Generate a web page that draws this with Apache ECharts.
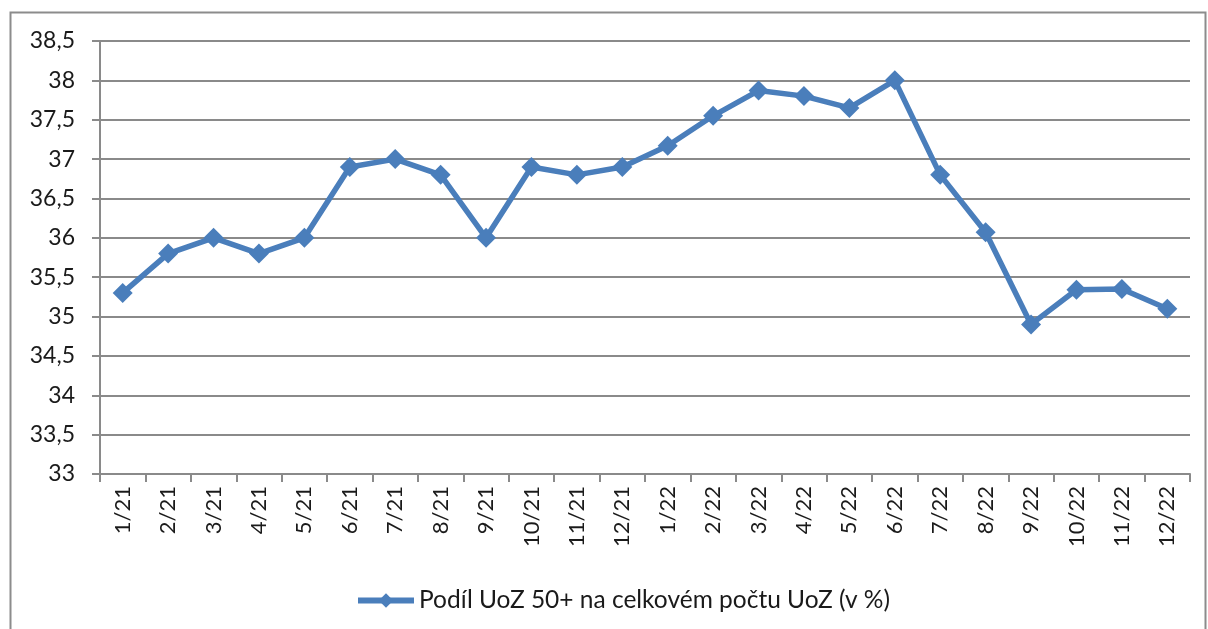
<!DOCTYPE html>
<html>
<head>
<meta charset="utf-8">
<script src="https://cdn.jsdelivr.net/npm/echarts@6/dist/echarts.min.js"></script>
<style>
  html, body { margin: 0; padding: 0; background: #fff; }
  #chart { width: 1208px; height: 629px; }
</style>
</head>
<body>
<div id="chart"></div>
<script>
const months = ['1/21', '2/21', '3/21', '4/21', '5/21', '6/21', '7/21', '8/21', '9/21', '10/21', '11/21', '12/21',
  '1/22', '2/22', '3/22', '4/22', '5/22', '6/22', '7/22', '8/22', '9/22', '10/22', '11/22', '12/22'];
const share50 = [35.3, 35.8, 36.0, 35.8, 36.0, 36.9, 37.0, 36.8, 36.0, 36.9, 36.8, 36.9,
  37.17, 37.55, 37.87, 37.8, 37.65, 38.0, 36.8, 36.07, 34.9, 35.34, 35.35, 35.1];
const seriesName = 'Podíl UoZ 50+ na celkovém počtu UoZ (v %)';

const FONT = 'Lato, "Noto Sans", sans-serif';
const GRID_COLOR = '#8a8a8a';
const BLUE = '#4a7ebb';

const chart = echarts.init(document.getElementById('chart'));

chart.setOption({
  animation: false,
  textStyle: { fontFamily: FONT },
  graphic: [{
    type: 'rect',
    shape: { x: 10.5, y: 12.5, width: 1195, height: 640 },
    style: { fill: 'none', stroke: '#8c8c8c', lineWidth: 2 },
    silent: true
  }],
  grid: { left: 100, right: 18, top: 41, bottom: 155 },
  legend: {
    top: 583,
    left: 350,
    itemWidth: 56,
    itemHeight: 18,
    itemGap: 6,
    lineStyle: { width: 6 },
    textStyle: { fontSize: 24.5, color: '#1a1a1a', fontFamily: FONT },
    data: [seriesName]
  },
  xAxis: {
    type: 'category',
    data: months,
    boundaryGap: true,
    axisLine: { lineStyle: { color: GRID_COLOR, width: 2 } },
    axisTick: { show: true, length: 8, lineStyle: { color: GRID_COLOR, width: 2 } },
    axisLabel: { rotate: 90, fontSize: 22, color: '#1a1a1a', margin: 12, interval: 0 }
  },
  yAxis: {
    type: 'value',
    min: 33,
    max: 38.5,
    interval: 0.5,
    axisLine: { show: true, lineStyle: { color: GRID_COLOR, width: 2 } },
    axisTick: { show: true, length: 8, lineStyle: { color: GRID_COLOR, width: 2 } },
    splitLine: { lineStyle: { color: GRID_COLOR, width: 2 } },
    axisLabel: {
      fontSize: 23,
      color: '#1a1a1a',
      margin: 25,
      formatter: v => String(v).replace('.', ',')
    }
  },
  series: [{
    name: seriesName,
    type: 'line',
    data: share50,
    symbol: 'diamond',
    symbolSize: 20,
    lineStyle: { color: BLUE, width: 5.5 },
    itemStyle: { color: BLUE }
  }]
});
</script>
</body>
</html>
